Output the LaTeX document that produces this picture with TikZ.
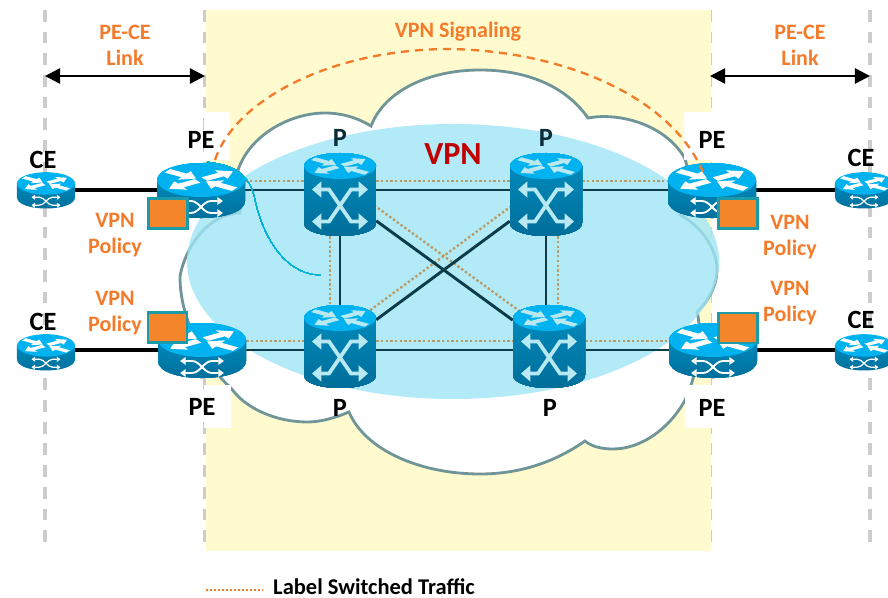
\documentclass[tikz,border=0pt]{standalone}
\usepackage{fontspec}
\setmainfont{Carlito}
\usetikzlibrary{arrows.meta}
\usetikzlibrary{backgrounds}
\definecolor{yellowbg}{HTML}{FFFBCF}
\definecolor{cloudline}{HTML}{6F9599}
\definecolor{vpnblue}{HTML}{9FE6F5}
\definecolor{linkdark}{HTML}{0B3C47}
\definecolor{lspdots}{HTML}{B99A62}
\definecolor{topblue}{HTML}{00B2F0}
\definecolor{bodyblue}{HTML}{0089BA}
\definecolor{bodydark}{HTML}{006C98}
\definecolor{iconlight}{HTML}{B8E9F3}
\definecolor{txtorange}{HTML}{F47B2A}
\definecolor{boxorange}{HTML}{F5852A}
\definecolor{boxteal}{HTML}{1B9AAA}
\definecolor{vpnred}{HTML}{C00000}
\definecolor{thincurve}{HTML}{00B5D8}
\definecolor{ltitle}{HTML}{0A2C36}
\newcommand\fatarrow[3]{\fill[#1,rotate=#2,shift={(#3,0)}] (0,-5) -- (20,-5) -- (20,-12) -- (34,0) -- (20,12) -- (20,5) -- (0,5) -- cycle;}
\newcommand\fourarrows[1]{\fatarrow{#1}{33}{4}\fatarrow{#1}{213}{4}\fatarrow{#1}{327}{-40}\fatarrow{#1}{147}{-40}}
\newcommand\routericon[2]{\begin{scope}[shift={(#1.center)},scale=#2]
\shade[top color=bodyblue,bottom color=bodydark] (-44,-10) -- (-44,11) .. controls (-44,33.7) and (44,33.7) .. (44,11) -- (44,-10) -- cycle;
\fill[topblue] (0,-10) ellipse (44 and 17);
\begin{scope}[shift={(0,-10)},yscale=0.42]\fourarrows{white}\end{scope}
\draw[white,line width=#2*1.6pt,{Triangle[length=0pt 3 0,width=0pt 4 0]}-{Triangle[length=0pt 3 0,width=0pt 4 0]}] (-22,11) -- (-10,11) .. controls (-2,11) and (2,23) .. (10,23) -- (22,23);
\draw[white,line width=#2*1.6pt,{Triangle[length=0pt 3 0,width=0pt 4 0]}-{Triangle[length=0pt 3 0,width=0pt 4 0]}] (-22,23) -- (-10,23) .. controls (-2,23) and (2,11) .. (10,11) -- (22,11);
\end{scope}}
\newcommand\switchicon[1]{\begin{scope}[shift={(#1.center)}]
\shade[top color=bodyblue,middle color=bodyblue,bottom color=bodydark] (-36,-28.5) -- (-36,28.5) .. controls (-36,45.8) and (36,45.8) .. (36,28.5) -- (36,-28.5) -- cycle;
\fill[topblue] (0,-28.5) ellipse (36 and 13);
\begin{scope}[shift={(0,-28.5)},scale=0.8,yscale=0.42]\fourarrows{iconlight}\end{scope}
\draw[iconlight,line width=3.2pt,{Triangle[length=0pt 2.5 0,width=0pt 4.2 0]}-{Triangle[length=0pt 2.5 0,width=0pt 4.2 0]}] (-28,-5) -- (-11,-5) -- (11,27) -- (28,27);
\draw[iconlight,line width=3.2pt,{Triangle[length=0pt 2.5 0,width=0pt 4.2 0]}-{Triangle[length=0pt 2.5 0,width=0pt 4.2 0]}] (-28,27) -- (-11,27) -- (11,-5) -- (28,-5);
\end{scope}}
\tikzset{
cebox/.style={inner sep=0pt,minimum width=1.74cm,minimum height=1.1cm},
pebox/.style={inner sep=0pt,minimum width=2.64cm,minimum height=1.68cm},
pbox/.style={inner sep=0pt,minimum width=2.16cm,minimum height=2.5cm},
policybox/.style={draw=boxteal,fill=boxorange,line width=1.9pt,inner sep=0pt,minimum width=1.17cm,minimum height=0.9cm},
blacklbl/.style={font=\bfseries\fontsize{22.5}{26}\selectfont},
orangelbl/.style={text=txtorange,align=center,font=\bfseries\fontsize{18.8}{22.2}\selectfont},
linkdark/.style={draw=linkdark,line width=2.5pt},
linkblack/.style={draw=black,line width=2.6pt},
lsp/.style={draw=lspdots,line width=2pt,dash pattern=on 2pt off 2pt},
dimline/.style={draw=black!20,line width=3pt,dash pattern=on 10pt off 8.5pt},
dimarrow/.style={draw=black,line width=2.2pt,{Triangle[length=13pt,width=13pt]}-{Triangle[length=13pt,width=13pt]}}
}
\begin{document}
\begin{tikzpicture}[x=0.03cm,y=-0.03cm]
\useasboundingbox (0,0) rectangle (888,598);
\foreach \nm/\x/\y in {ce1/46/190,ce2/864/190,ce3/46/352,ce4/864/352}
\node[cebox] (\nm) at (\x,\y) {};
\foreach \nm/\x/\y in {pe1/201/190,pe2/712/190,pe3/202/350,pe4/713/350}
\node[pebox] (\nm) at (\x,\y) {};
\foreach \nm/\x/\y in {p1/340/194.5,p2/546/194.5,p3/340/346.5,p4/549/346.5}
\node[pbox] (\nm) at (\x,\y) {};
\coordinate (rowa) at (0,181);
\coordinate (rowb) at (0,341);
\coordinate (cola) at (330,0);
\coordinate (colb) at (558,0);
\coordinate (dima) at (45,76);
\coordinate (dimb) at (205,76);
\coordinate (dimc) at (710,76);
\coordinate (dimd) at (870,76);
\coordinate (lega) at (206,590);
\coordinate (legb) at (262,590);
\begin{scope}[on background layer]
\foreach \x in {45,205,710,870}
\draw[dimline] (\x,10) -- (\x,551);
\fill[yellowbg] (206,10) rectangle (711,551);
\draw[cloudline,fill=white,line width=2.4pt,line join=miter] (238,170) .. controls (250,135) and (290,113) .. (325,113) .. controls (342,113) and (358,118) .. (371,126) .. controls (385,90) and (430,70) .. (480,70) .. controls (525,70) and (565,85) .. (588,118) .. controls (620,112) and (665,125) .. (684,157) .. controls (688,165) and (692,185) .. (680,215) .. controls (700,225) and (717,248) .. (717,270) .. controls (717,285) and (708,302) .. (697,312) .. controls (702,330) and (700,370) .. (684,402) .. controls (668,430) and (640,449) .. (613,449) .. controls (603,449) and (592,447) .. (585,441) .. controls (555,462) and (520,474) .. (480,474) .. controls (420,474) and (365,450) .. (349,412) .. controls (335,418) and (320,422) .. (308,422) .. controls (275,422) and (245,408) .. (231,388) .. controls (205,365) and (180,320) .. (180,277) .. controls (182,260) and (200,215) .. (240,213) -- cycle;
\fill[white] (204,112) rectangle (230,160);
\fill[white] (684,112) rectangle (712,160);
\fill[white] (204,385) rectangle (231,428);
\fill[white] (684.5,385) rectangle (712,428);
\fill[vpnblue,opacity=0.8] (453,261.5) ellipse (266 and 137.5);
\foreach \a/\b/\r in {pe1/p1/rowa,p1/p2/rowa,p2/pe2/rowa,pe3/p3/rowb,p3/p4/rowb,p4/pe4/rowb}
\draw[lsp] (\a.east |- \r) -- (\b.west |- \r);
\draw[lsp] (p1.south -| cola) -- (p3.north -| cola);
\draw[lsp] (p2.south -| colb) -- (p4.north -| colb);
\draw[lsp] ([shift={(0,-14)}]p1.center) -- ([shift={(0,-14)}]p4.center);
\draw[lsp] ([shift={(0,-14)}]p3.center) -- ([shift={(0,-14)}]p2.center);
\foreach \a/\b/\r in {pe1/p1/pe1,p1/p2/pe1,p2/pe2/pe1,pe3/p3/pe3,p3/p4/pe3,p4/pe4/pe3}
\draw[linkdark] (\a.east |- \r) -- (\b.west |- \r);
\draw[linkdark] (p1) -- (p3);
\draw[linkdark] (p2) -- (p2 |- p4);
\draw[linkdark] (p1) -- (p4);
\draw[linkdark] (p3) -- (p2);
\draw[linkblack] (ce1) -- (pe1);
\draw[linkblack] (pe2) -- (ce2);
\draw[linkblack] (ce3 |- pe3) -- (pe3);
\draw[linkblack] (pe4) -- (ce4 |- pe4);
\end{scope}
\foreach \nm in {ce1,ce2,ce3,ce4}
\routericon{\nm}{0.66}
\foreach \nm in {pe1,pe2,pe3,pe4}
\routericon{\nm}{1}
\foreach \nm in {p1,p2,p3,p4}
\switchicon{\nm}
\draw[thincurve,line width=0.5pt] (207,162) .. controls (235,165) and (250,175) .. (255,200) .. controls (265,245) and (290,275) .. (320,275);
\draw[txtorange,line width=2pt,dash pattern=on 7pt off 5pt] ([shift={(14,-30)}]pe1.center) .. controls (235,100) and (330,50) .. (447,49) .. controls (560,50) and (670,95) .. ([shift={(-9,-18)}]pe2.center);
\node[policybox] (pol1) at (168,213.5) {};
\node[policybox] (pol2) at (167.5,327.5) {};
\node[policybox] (pol3) at (738,213.5) {};
\node[policybox] (pol4) at (738,328) {};
\foreach \nm/\x/\y/\t in {lblce1/43/160/CE,lblce2/861/158/CE,lblce3/43/322/CE,lblce4/861/320/CE,lblpe1/201/140/PE,lblpe2/712/140/PE,lblpe3/202/407/PE,lblpe4/712/408/PE,lblp3/340/408/P,lblp4/550/408/P}
\node[blacklbl] (\nm) at (\x,\y) {\t};
\node[blacklbl,text=ltitle] (lblp1) at (340,138) {P};
\node[blacklbl,text=ltitle] (lblp2) at (546,138) {P};
\node[text=vpnred,font=\bfseries\fontsize{27.5}{30}\selectfont] (lblvpn) at (453,154) {VPN};
\node[orangelbl] (lblsig) at (458,32) {VPN Signaling};
\node[orangelbl] (lbllinka) at (125,45) {PE-CE\\Link};
\node[orangelbl] (lbllinkb) at (800,45) {PE-CE\\Link};
\node[orangelbl] (lblpola) at (115,235.5) {VPN\\Policy};
\node[orangelbl] (lblpolb) at (115,313) {VPN\\Policy};
\node[orangelbl] (lblpolc) at (790,237) {VPN\\Policy};
\node[orangelbl] (lblpold) at (790,303.5) {VPN\\Policy};
\draw[dimarrow] (dima) -- (dimb);
\draw[dimarrow] (dimc) -- (dimd);
\draw[txtorange,line width=1.5pt,dash pattern=on 1.7pt off 1.7pt] (lega) -- (legb);
\node[anchor=west,inner sep=0pt,font=\bfseries\fontsize{19.2}{22}\selectfont] (lbllsp) at (273,587) {Label Switched Traffic};
\end{tikzpicture}
\end{document}
